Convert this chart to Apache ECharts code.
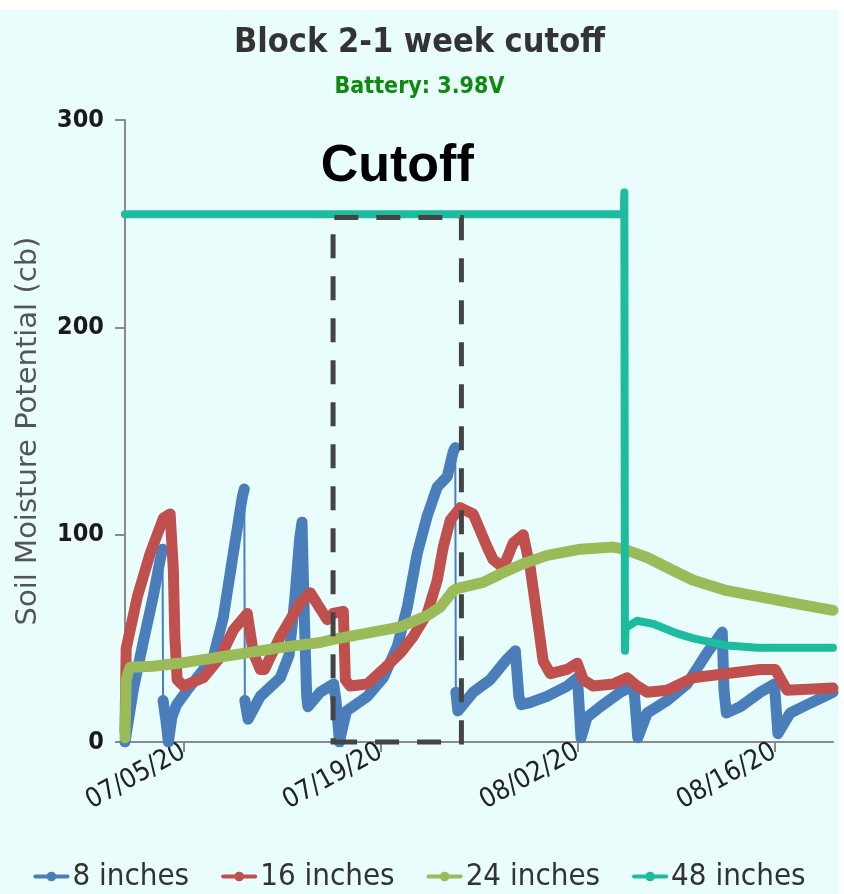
<!DOCTYPE html>
<html>
<head>
<meta charset="utf-8">
<script src="https://cdn.jsdelivr.net/npm/echarts@6/dist/echarts.min.js"></script>
<style>
html,body{margin:0;padding:0;background:#ffffff;}
#c{position:absolute;left:0;top:10px;width:839px;height:884px;}
</style>
</head>
<body>
<div id="c"></div>
<script>
// ---------- data ----------
const titleText = 'Block 2-1 week cutoff';
const subtitleText = 'Battery: 3.98V';
const yAxisName = 'Soil Moisture Potential (cb)';
const seriesNames = ['8 inches', '16 inches', '24 inches', '48 inches'];
const tickDates = ['2020-07-05', '2020-07-19', '2020-08-02', '2020-08-16'];
const xRange = ['2020-06-30 20:00', '2020-08-20 04:00'];
const yTicks = [0, 100, 200, 300];
const cutoffLabel = 'Cutoff';
const cutoffBox = [['2020-07-15 15:00', 0], ['2020-07-24 18:00', 253]];

const inch8 = [
  ['2020-06-30 20:00', 0], ['2020-07-01 10:00', 25], ['2020-07-02 03:00', 48], ['2020-07-02 20:00', 70],
  ['2020-07-03 08:00', 88], ['2020-07-03 12:00', 93], ['2020-07-03 13:00', 20], ['2020-07-03 18:00', 10],
  ['2020-07-03 22:00', 0], ['2020-07-04 04:00', 12], ['2020-07-04 12:00', 18], ['2020-07-05 06:00', 25],
  ['2020-07-06 04:30', 33], ['2020-07-07 02:40', 41], ['2020-07-07 19:40', 60], ['2020-07-08 12:45', 91],
  ['2020-07-09 04:00', 118], ['2020-07-09 07:30', 122], ['2020-07-09 08:30', 20], ['2020-07-09 14:00', 11],
  ['2020-07-10 10:50', 22], ['2020-07-11 21:00', 31], ['2020-07-12 12:00', 42], ['2020-07-12 22:00', 70],
  ['2020-07-13 06:00', 98], ['2020-07-13 10:00', 106], ['2020-07-13 14:00', 60], ['2020-07-13 18:00', 22],
  ['2020-07-13 20:00', 17], ['2020-07-14 17:00', 24], ['2020-07-15 16:00', 28], ['2020-07-15 20:00', 20],
  ['2020-07-16 02:00', 0], ['2020-07-16 08:00', 8], ['2020-07-16 14:00', 15], ['2020-07-18 01:30', 22],
  ['2020-07-19 04:40', 31], ['2020-07-20 04:30', 46], ['2020-07-20 21:40', 65], ['2020-07-21 14:40', 91],
  ['2020-07-22 07:40', 109], ['2020-07-23 00:45', 123], ['2020-07-23 17:50', 128], ['2020-07-24 04:00', 140],
  ['2020-07-24 07:30', 142], ['2020-07-24 08:30', 24], ['2020-07-24 12:00', 15], ['2020-07-25 14:00', 24],
  ['2020-07-26 19:00', 30], ['2020-07-28 00:00', 40], ['2020-07-28 14:00', 44], ['2020-07-28 20:00', 22],
  ['2020-07-29 00:00', 18], ['2020-07-29 15:00', 19], ['2020-07-30 20:00', 22], ['2020-08-01 06:30', 27],
  ['2020-08-02 00:00', 31], ['2020-08-02 06:00', 2], ['2020-08-02 16:30', 12], ['2020-08-03 15:00', 17],
  ['2020-08-05 01:00', 24], ['2020-08-06 00:00', 27], ['2020-08-06 07:00', 2], ['2020-08-06 23:00', 14],
  ['2020-08-08 09:00', 20], ['2020-08-09 19:00', 28], ['2020-08-11 05:20', 43], ['2020-08-12 07:00', 53],
  ['2020-08-12 10:00', 25], ['2020-08-12 14:00', 14], ['2020-08-13 13:40', 17], ['2020-08-14 23:50', 24],
  ['2020-08-16 00:00', 28], ['2020-08-16 06:00', 4], ['2020-08-17 03:00', 14], ['2020-08-18 08:00', 18],
  ['2020-08-20 04:00', 24]
];

const inch16 = [
  ['2020-06-30 20:00', 5], ['2020-06-30 22:00', 45], ['2020-07-01 17:00', 70], ['2020-07-02 15:00', 91],
  ['2020-07-03 13:30', 108], ['2020-07-04 01:00', 110], ['2020-07-04 06:30', 83], ['2020-07-04 09:00', 51],
  ['2020-07-04 13:00', 30], ['2020-07-05 00:00', 27], ['2020-07-06 09:40', 31], ['2020-07-07 14:40', 41],
  ['2020-07-08 12:50', 54], ['2020-07-09 12:40', 62], ['2020-07-09 22:50', 43], ['2020-07-10 10:50', 35],
  ['2020-07-10 18:00', 35], ['2020-07-11 21:00', 51], ['2020-07-13 07:00', 67], ['2020-07-14 00:00', 72],
  ['2020-07-15 05:00', 59], ['2020-07-15 15:00', 62], ['2020-07-16 08:30', 63], ['2020-07-16 12:00', 30],
  ['2020-07-16 20:00', 27], ['2020-07-18 01:30', 28], ['2020-07-19 04:40', 35], ['2020-07-20 10:00', 43],
  ['2020-07-21 08:00', 51], ['2020-07-22 07:40', 62], ['2020-07-23 00:45', 78], ['2020-07-23 11:00', 94],
  ['2020-07-23 23:00', 107], ['2020-07-24 16:00', 113], ['2020-07-25 14:00', 110], ['2020-07-26 14:00', 94],
  ['2020-07-27 00:00', 88], ['2020-07-27 17:20', 84], ['2020-07-28 10:20', 96], ['2020-07-29 03:20', 100],
  ['2020-07-29 15:20', 84], ['2020-07-30 03:20', 60], ['2020-07-30 13:30', 39], ['2020-07-31 01:30', 33],
  ['2020-08-01 06:30', 35], ['2020-08-01 23:30', 38], ['2020-08-02 10:00', 30], ['2020-08-03 03:00', 27],
  ['2020-08-04 13:00', 28], ['2020-08-05 12:40', 31], ['2020-08-06 05:50', 27], ['2020-08-06 23:00', 24],
  ['2020-08-08 09:00', 25], ['2020-08-10 05:30', 31], ['2020-08-12 15:20', 33], ['2020-08-14 23:50', 35],
  ['2020-08-16 01:30', 35], ['2020-08-16 21:30', 25], ['2020-08-20 04:00', 26]
];

const inch24 = [
  ['2020-06-30 20:00', 2], ['2020-06-30 22:00', 30], ['2020-07-01 02:00', 34], ['2020-07-01 05:00', 36],
  ['2020-07-02 20:00', 36.5], ['2020-07-05 06:00', 38.5], ['2020-07-07 14:40', 41], ['2020-07-09 23:00', 43.5],
  ['2020-07-12 09:00', 46], ['2020-07-14 17:00', 48], ['2020-07-15 15:00', 49.5], ['2020-07-18 01:30', 52.5],
  ['2020-07-20 10:00', 55.5], ['2020-07-22 07:40', 61], ['2020-07-23 05:50', 65], ['2020-07-24 04:00', 73],
  ['2020-07-24 10:00', 74], ['2020-07-26 07:10', 77], ['2020-07-27 12:10', 81], ['2020-07-29 03:20', 86],
  ['2020-07-30 20:20', 90], ['2020-08-02 05:00', 93], ['2020-08-04 13:00', 94], ['2020-08-05 07:00', 93],
  ['2020-08-06 23:00', 89], ['2020-08-09 00:30', 82], ['2020-08-10 05:30', 78], ['2020-08-12 15:20', 73],
  ['2020-08-14 23:50', 70], ['2020-08-17 08:00', 67], ['2020-08-20 04:00', 63.5]
];

const inch48 = [
  ['2020-06-30 20:00', 254.5], ['2020-08-05 07:00', 254.5], ['2020-08-05 08:00', 265], ['2020-08-05 09:00', 44],
  ['2020-08-05 10:00', 55], ['2020-08-06 06:00', 58.5], ['2020-08-07 09:00', 57], ['2020-08-09 00:30', 52.5],
  ['2020-08-10 05:30', 50], ['2020-08-12 15:20', 46.5], ['2020-08-14 18:30', 45.5], ['2020-08-20 04:00', 45.5]
];

// ---------- build ----------
const colors = ['#4A7EBB', '#C0504D', '#9BBB59', '#1DBC9E'];
const P = s => echarts.number.parseDate(s).getTime();
const toXY = arr => arr.map(d => [P(d[0]), d[1]]);

// thick blue segments broken at the abrupt drops (thin lines there)
function breakAtDrops(arr) {
  const out = [];
  for (let i = 0; i < arr.length; i++) {
    if (i > 0 && arr[i - 1][1] - arr[i][1] > 50) out.push([P(arr[i][0]) - 1, null]);
    out.push([P(arr[i][0]), arr[i][1]]);
  }
  return out;
}

const pad = n => (n < 10 ? '0' : '') + n;
const fmt = v => { const d = new Date(v); return pad(d.getMonth() + 1) + '/' + pad(d.getDate()) + '/' + String(d.getFullYear()).slice(2); };
const tickVals = tickDates.map(P);
const condensed = "'DejaVu Sans Condensed', 'DejaVu Sans', sans-serif";

const chart = echarts.init(document.getElementById('c'), null, { renderer: 'canvas' });

const lineBase = (name, color, data, width) => ({
  name, type: 'line', data, color,
  symbol: 'circle', symbolSize: 12, showSymbol: false,
  lineStyle: { width, color, cap: 'round', join: 'round' },
  itemStyle: { color },
  connectNulls: false, animation: false,
  emphasis: { disabled: true }
});

const option = {
  backgroundColor: '#EAFDFD',
  animation: false,
  title: [
    { text: titleText, left: 'center', top: 11,
      textStyle: { fontFamily: condensed, fontWeight: 'bold', fontSize: 34, color: '#333333' } },
    { text: subtitleText, left: 'center', top: 61,
      textStyle: { fontFamily: condensed, fontWeight: 'bold', fontSize: 23, color: '#0E8A0E' } }
  ],
  legend: {
    data: seriesNames, bottom: 2, left: 'center', itemGap: 32, padding: 0,
    itemWidth: 32, itemHeight: 12,
    lineStyle: { width: 4 },
    textStyle: { fontFamily: condensed, fontSize: 31, color: '#333' }
  },
  grid: { left: 125, right: 6, top: 110, bottom: 152, containLabel: false },
  xAxis: {
    type: 'value', min: P(xRange[0]), max: P(xRange[1]),
    axisLine: { show: true, lineStyle: { color: '#8a8a8a', width: 2 } },
    axisTick: { show: true, customValues: tickVals, length: 10, lineStyle: { color: '#8a8a8a', width: 2 } },
    axisLabel: { customValues: tickVals, formatter: fmt, rotate: 29, margin: 8,
      fontFamily: condensed, fontSize: 27, color: '#222' },
    splitLine: { show: false }
  },
  yAxis: {
    type: 'value', min: yTicks[0], max: yTicks[yTicks.length - 1], interval: 100,
    name: yAxisName, nameLocation: 'middle', nameGap: 82,
    nameTextStyle: { fontFamily: "'DejaVu Sans', sans-serif", fontSize: 29, color: '#555' },
    axisLine: { show: true, lineStyle: { color: '#8a8a8a', width: 2 } },
    axisTick: { show: true, length: 10, lineStyle: { color: '#8a8a8a', width: 2 } },
    axisLabel: { margin: 21, fontFamily: condensed, fontWeight: 'bold', fontSize: 25, color: '#1a1a1a' },
    splitLine: { show: false }
  },
  series: [
    Object.assign(lineBase(seriesNames[0], colors[0], toXY(inch8), 2), { z: 2 }),
    Object.assign(lineBase(seriesNames[0], colors[0], breakAtDrops(inch8), 11), { z: 2 }),
    Object.assign(lineBase(seriesNames[1], colors[1], toXY(inch16), 11), { z: 3 }),
    Object.assign(lineBase(seriesNames[2], colors[2], toXY(inch24), 11), { z: 4 }),
    Object.assign(lineBase(seriesNames[3], colors[3], toXY(inch48), 8), {
      z: 5,
      markArea: {
        silent: true,
        z: 10,
        itemStyle: { color: 'rgba(0,0,0,0)', borderColor: '#444', borderWidth: 5, borderType: [24, 18] },
        label: { show: true, position: 'top', distance: 22, formatter: cutoffLabel,
          fontFamily: "'Liberation Sans', Arial, sans-serif", fontWeight: 'bold', fontSize: 52, color: '#000' },
        data: [[{ coord: [P(cutoffBox[0][0]), cutoffBox[0][1]] }, { coord: [P(cutoffBox[1][0]), cutoffBox[1][1]] }]]
      }
    })
  ]
};
chart.setOption(option);
</script>
</body>
</html>
